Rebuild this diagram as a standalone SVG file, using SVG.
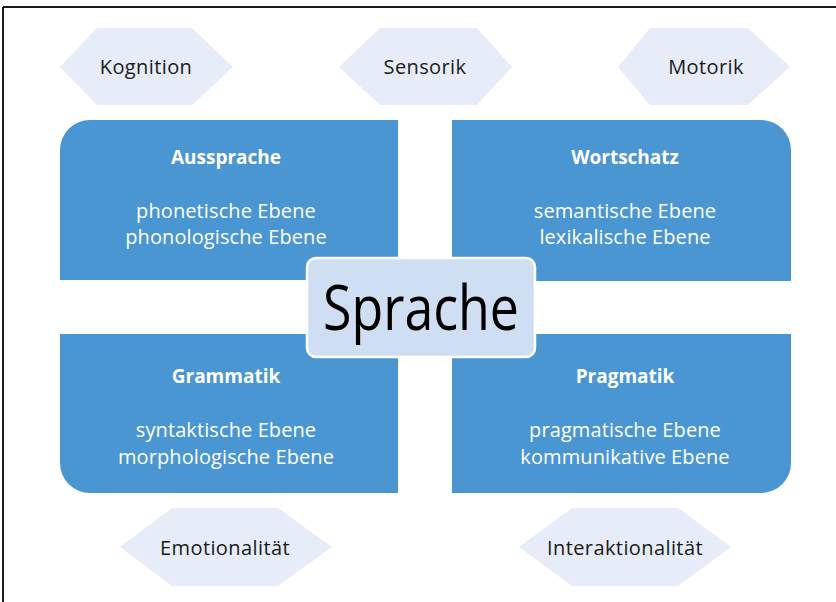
<svg xmlns="http://www.w3.org/2000/svg" width="836" height="602" viewBox="0 0 836 602">
<style>
.hex{fill:#e6ecf8}
.box{fill:#4a96d2}
.ht{font-family:"Open Sans","Noto Sans",sans-serif;font-size:20px;letter-spacing:0.4px;fill:#1a1a1a;text-anchor:middle}
.hd{font-family:"Open Sans","Noto Sans",sans-serif;font-size:19px;font-weight:bold;fill:#ffffff;text-anchor:middle}
.bt{font-family:"Open Sans","Noto Sans",sans-serif;font-size:20px;letter-spacing:0.1px;fill:#ffffff;text-anchor:middle}
.big{font-family:"Open Sans","Noto Sans",sans-serif;font-size:62px;fill:#000000;text-anchor:middle}
</style>
<rect width="836" height="602" fill="#ffffff"/>
<g id="frame" stroke="#1a1a1a" stroke-width="2">
<line x1="3" y1="7" x2="836" y2="7"/>
<line x1="3" y1="7" x2="3" y2="602"/>
</g>
<g id="connectors"></g>
<g id="kognition">
<polygon class="hex" points="60,67 97,28 192,28 233,67 192,105 97,105"/>
<text class="ht" x="146" y="74">Kognition</text>
</g>
<g id="sensorik">
<polygon class="hex" points="339,67 380,28 477,28 512,67 477,105 380,105"/>
<text class="ht" x="425" y="74">Sensorik</text>
</g>
<g id="motorik">
<polygon class="hex" points="618,67 650,28 748,28 790,67 748,105 650,105"/>
<text class="ht" x="706" y="74">Motorik</text>
</g>
<g id="aussprache">
<path class="box" d="M60,280 V150 A30,30 0 0 1 90,120 H398 V280 Z"/>
<text class="hd" x="226" y="164">Aussprache</text>
<text class="bt" x="226" y="218">phonetische Ebene</text>
<text class="bt" x="226" y="244">phonologische Ebene</text>
</g>
<g id="wortschatz">
<path class="box" d="M452,120 H761 A30,30 0 0 1 791,150 V281 H452 Z"/>
<text class="hd" x="625" y="164">Wortschatz</text>
<text class="bt" x="625" y="218">semantische Ebene</text>
<text class="bt" x="625" y="244">lexikalische Ebene</text>
</g>
<g id="grammatik">
<path class="box" d="M60,334 H398 V493 H90 A30,30 0 0 1 60,463 Z"/>
<text class="hd" x="226" y="383">Grammatik</text>
<text class="bt" x="226" y="437">syntaktische Ebene</text>
<text class="bt" x="226" y="464">morphologische Ebene</text>
</g>
<g id="pragmatik">
<path class="box" d="M452,334 H791 V463 A30,30 0 0 1 761,493 H452 Z"/>
<text class="hd" x="625" y="383">Pragmatik</text>
<text class="bt" x="625" y="437">pragmatische Ebene</text>
<text class="bt" x="625" y="464">kommunikative Ebene</text>
</g>
<g id="emotionalitaet">
<polygon class="hex" points="120,547 172,508 278,508 332,547 278,586 172,586"/>
<text class="ht" x="225" y="555">Emotionalität</text>
</g>
<g id="interaktionalitaet">
<polygon class="hex" points="519,547 572,508 678,508 731,547 678,586 572,586"/>
<text class="ht" x="625" y="555">Interaktionalität</text>
</g>
<g id="sprache">
<rect x="307" y="258" width="228" height="99" rx="9" fill="#d0def3" stroke="#ffffff" stroke-width="2.5"/>
<text class="big" x="421" y="330" textLength="196" lengthAdjust="spacingAndGlyphs">Sprache</text>
</g>
</svg>
